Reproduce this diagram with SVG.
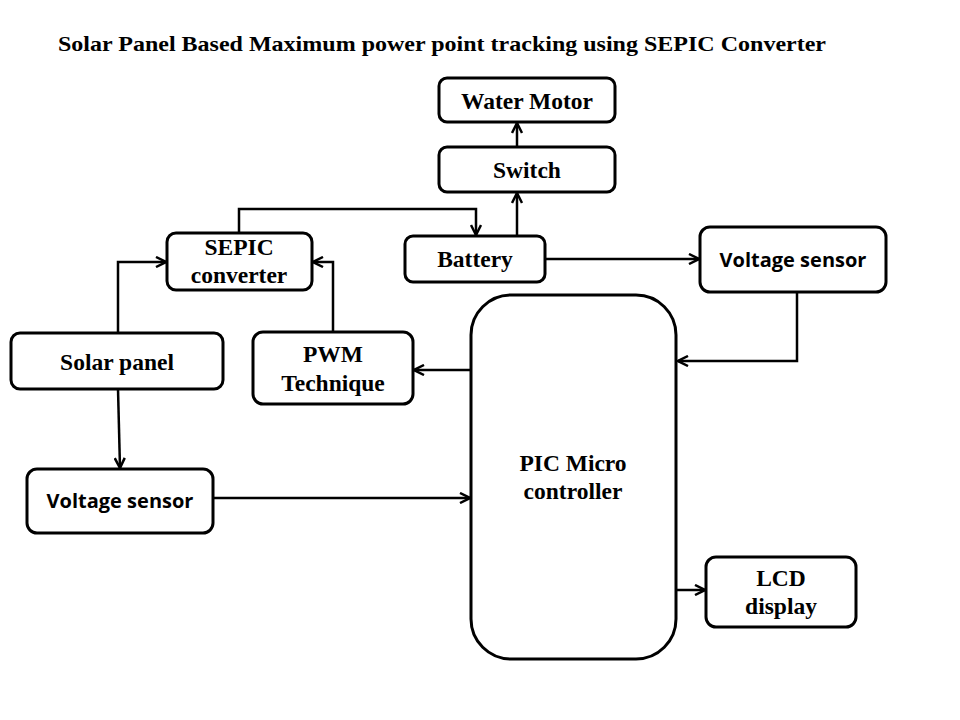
<svg xmlns="http://www.w3.org/2000/svg" width="960" height="720" viewBox="0 0 960 720">
<style>
.box{fill:#fff;stroke:#000;stroke-width:3}
.t{font-family:"Liberation Serif","DejaVu Serif","Times New Roman",serif;font-weight:bold;font-size:23.5px;text-anchor:middle;fill:#000}
.ti{font-family:"Liberation Serif","DejaVu Serif","Times New Roman",serif;font-weight:bold;font-size:21.5px;fill:#000}
.s{font-family:"Open Sans","Liberation Sans",sans-serif;font-weight:bold;font-size:20px;text-anchor:middle;fill:#000}
.c{fill:none;stroke:#000;stroke-width:2.5}
</style>
<defs>
<marker id="a" viewBox="0 0 12 12" refX="11" refY="6" markerWidth="12" markerHeight="12" markerUnits="userSpaceOnUse" orient="auto">
<path d="M1,1 L11,6 L1,11" fill="none" stroke="#000" stroke-width="2.5"/>
</marker>
</defs>
<rect width="960" height="720" fill="#fff"/>
<text class="ti" x="58" y="51" textLength="768" lengthAdjust="spacingAndGlyphs">Solar Panel Based Maximum power point tracking using SEPIC Converter</text>
<g id="connectors">
<path class="c" d="M517,147 V123" marker-end="url(#a)"/>
<path class="c" d="M517,236 V193" marker-end="url(#a)"/>
<path class="c" d="M239,233 V209 H476 V235" marker-end="url(#a)"/>
<path class="c" d="M545,259 H699" marker-end="url(#a)"/>
<path class="c" d="M797,292 V361 H678" marker-end="url(#a)"/>
<path class="c" d="M470,370 H414" marker-end="url(#a)"/>
<path class="c" d="M333,332 V262 H313" marker-end="url(#a)"/>
<path class="c" d="M118,333 V262 H166" marker-end="url(#a)"/>
<path class="c" d="M118,389 L120,468" marker-end="url(#a)"/>
<path class="c" d="M213,498 H470" marker-end="url(#a)"/>
<path class="c" d="M676,590 H705" marker-end="url(#a)"/>
</g>
<g id="water-motor"><rect class="box" x="439" y="78" width="176" height="44" rx="8"/><text class="t" x="527" y="109">Water Motor</text></g>
<g id="switch"><rect class="box" x="439" y="147" width="176" height="45" rx="8"/><text class="t" x="527" y="178">Switch</text></g>
<g id="battery"><rect class="box" x="405" y="236" width="140" height="46" rx="8"/><text class="t" x="475" y="267">Battery</text></g>
<g id="sepic"><rect class="box" x="167" y="233" width="145" height="57" rx="9"/><text class="t" x="239" y="255">SEPIC</text><text class="t" x="239" y="283">converter</text></g>
<g id="vs-top"><rect class="box" x="700" y="227" width="186" height="65" rx="10"/><text class="s" x="793" y="267">Voltage sensor</text></g>
<g id="solar"><rect class="box" x="11" y="333" width="212" height="56" rx="9"/><text class="t" x="117" y="370">Solar panel</text></g>
<g id="pwm"><rect class="box" x="253" y="332" width="160" height="72" rx="10"/><text class="t" x="333" y="362">PWM</text><text class="t" x="333" y="391">Technique</text></g>
<g id="pic"><rect class="box" x="471" y="295" width="205" height="364" rx="40"/><text class="t" x="573" y="471">PIC Micro</text><text class="t" x="573" y="499">controller</text></g>
<g id="vs-bottom"><rect class="box" x="27" y="469" width="186" height="64" rx="10"/><text class="s" x="120" y="508">Voltage sensor</text></g>
<g id="lcd"><rect class="box" x="706" y="557" width="150" height="70" rx="10"/><text class="t" x="781" y="586">LCD</text><text class="t" x="781" y="614">display</text></g>
</svg>
